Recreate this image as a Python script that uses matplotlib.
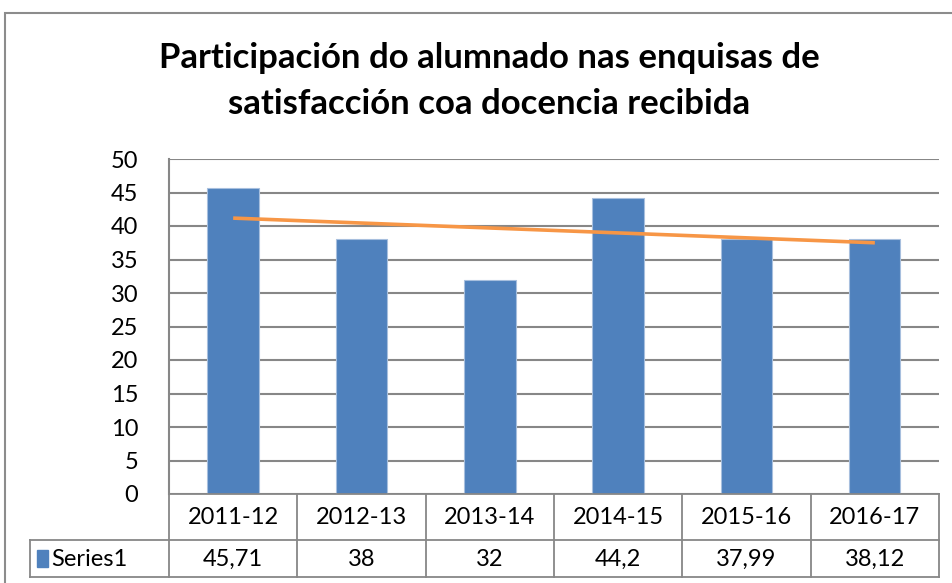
import numpy as np
import matplotlib
matplotlib.use("Agg")
from matplotlib import pyplot as plt
from matplotlib.patches import Rectangle

# data
cursos = ["2011-12", "2012-13", "2013-14", "2014-15", "2015-16", "2016-17"]
participacion = [45.71, 38, 32, 44.2, 37.99, 38.12]
etiquetas = ["45,71", "38", "32", "44,2", "37,99", "38,12"]
serie = "Series1"

plt.rcParams['font.family'] = ['Lato', 'DejaVu Sans']

W, H = 953, 583
fig = plt.figure(figsize=(W / 100, H / 100), dpi=100)

# outer chart border (cut off at right/bottom like the screenshot)
fig.patches.append(Rectangle((5 / W, -0.1), 1.2, (583 - 13) / H + 0.1,
                             transform=fig.transFigure, fill=False,
                             edgecolor="#8c8c8c", linewidth=1.5))

fig.text(489 / W, 1 - 58 / H, "Participación do alumnado nas enquisas de",
         ha="center", va="center", fontsize=25, fontweight="bold")
fig.text(489 / W, 1 - 104 / H, "satisfacción coa docencia recibida",
         ha="center", va="center", fontsize=25, fontweight="bold")

x0, x1, ytop, ybot = 169, 939, 159, 494
ax = fig.add_axes([x0 / W, 1 - ybot / H, (x1 - x0) / W, (ybot - ytop) / H])

x = np.arange(len(cursos))
ax.bar(x, participacion, width=0.4, color="#4F81BD", edgecolor="#a7bfde",
       linewidth=0.8, zorder=2)

# linear trend line
k, b = np.polyfit(x, participacion, 1)
ax.plot(x, k * x + b, color="#F79646", linewidth=2.6, zorder=3,
        solid_capstyle="butt")

ax.set_xlim(-0.5, len(cursos) - 0.5)
ax.set_ylim(0, 50)
ax.set_yticks(range(0, 51, 5))
ax.tick_params(axis="y", labelsize=17, length=0, pad=22)
ax.set_xticks([])
ax.grid(axis="y", color="#878787", linewidth=1.5, zorder=0)
ax.set_axisbelow(True)
for s in ["top", "right", "bottom"]:
    ax.spines[s].set_visible(False)
ax.spines["left"].set_color("#878787")
ax.spines["left"].set_linewidth(1.5)

# data table below the plot
ph = ybot - ytop
def yf(py):
    return (ybot - py) / ph

tr = ax.get_xaxis_transform()
lc = "#878787"
xl = -0.5 - (x0 - 30) / ((x1 - x0) / len(cursos))
xr = len(cursos) - 0.5
for py, xa in [(494, -0.5), (540, xl), (577, xl)]:
    ax.plot([xa, xr], [yf(py), yf(py)], color=lc, lw=1.3, transform=tr,
            clip_on=False)
for i in range(len(cursos) + 1):
    ax.plot([i - 0.5, i - 0.5], [yf(494), yf(577)], color=lc, lw=1.3,
            transform=tr, clip_on=False)
ax.plot([xl, xl], [yf(540), yf(577)], color=lc, lw=1.3, transform=tr,
        clip_on=False)

for i, c in enumerate(cursos):
    ax.text(i, yf(517), c, ha="center", va="center", fontsize=17,
            transform=tr, clip_on=False)
    ax.text(i, yf(559), etiquetas[i], ha="center", va="center", fontsize=17,
            transform=tr, clip_on=False)

fig.patches.append(Rectangle((37 / W, 1 - 567 / H), 11 / W, 17 / H,
                             transform=fig.transFigure, color="#4F81BD"))
fig.text(51 / W, 1 - 559 / H, serie, ha="left", va="center", fontsize=17)

fig.savefig("out.png", dpi=100)
